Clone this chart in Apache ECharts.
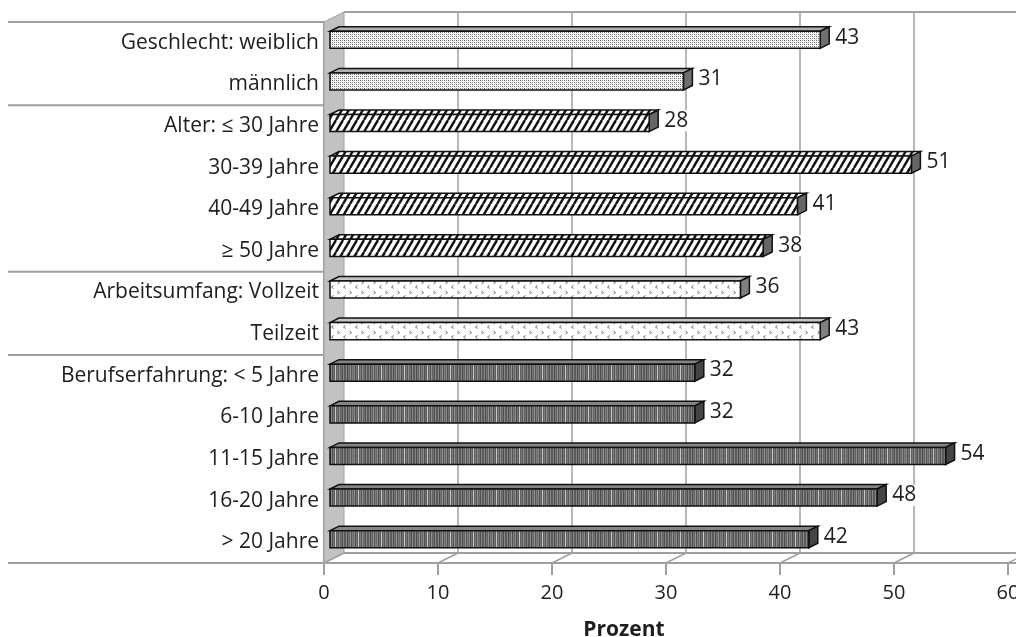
<!DOCTYPE html>
<html>
<head>
<meta charset="utf-8">
<script src="https://cdn.jsdelivr.net/npm/echarts@6/dist/echarts.min.js"></script>
<style>
  html, body { margin: 0; padding: 0; background: #ffffff; }
  #chart { width: 1016px; height: 637px; }
</style>
</head>
<body>
<div id="chart"></div>
<script>
// Anteile in Prozent nach Merkmalsgruppen
const categories = [
  'Geschlecht: weiblich', 'männlich',
  'Alter: ≤ 30 Jahre', '30-39 Jahre', '40-49 Jahre', '≥ 50 Jahre',
  'Arbeitsumfang: Vollzeit', 'Teilzeit',
  'Berufserfahrung: < 5 Jahre', '6-10 Jahre', '11-15 Jahre', '16-20 Jahre', '> 20 Jahre'
];
const values = [43, 31, 28, 51, 41, 38, 36, 43, 32, 32, 54, 48, 42];
// number of rows in each group: Geschlecht, Alter, Arbeitsumfang, Berufserfahrung
const groupSizes = [2, 4, 2, 5];
const xTicks = [0, 10, 20, 30, 40, 50, 60];
const axisTitle = 'Prozent';

// depth of the pseudo-3D box (pixels)
const DX = 20, DY = -10;
const FONT = '"Open Sans", "Noto Sans", sans-serif';
const GRID_COLOR = '#a0a0a0';
const TEXT_COLOR = '#1e1e1e';

// ---- fill patterns for the four groups ----
function makeCanvas(w, h, draw) {
  const c = document.createElement('canvas');
  c.width = w; c.height = h;
  const ctx = c.getContext('2d');
  draw(ctx, w, h);
  return c;
}
const dotTile = makeCanvas(4, 4, (ctx) => {
  ctx.fillStyle = '#ffffff'; ctx.fillRect(0, 0, 4, 4);
  ctx.fillStyle = '#5e5e5e'; ctx.fillRect(0, 0, 1, 1); ctx.fillRect(2, 2, 1, 1);
  ctx.fillStyle = '#9a9a9a'; ctx.fillRect(2, 0, 1, 1); ctx.fillRect(0, 2, 1, 1);
  ctx.fillStyle = '#dedede'; ctx.fillRect(1, 1, 1, 1); ctx.fillRect(3, 3, 1, 1);
});
const hatchTile = makeCanvas(7, 12, (ctx, w, h) => {
  ctx.fillStyle = '#ffffff'; ctx.fillRect(0, 0, w, h);
  ctx.strokeStyle = '#111111'; ctx.lineWidth = 2.4;
  for (const k of [-w, 0, w]) {
    ctx.beginPath(); ctx.moveTo(k, h); ctx.lineTo(k + w, 0); ctx.stroke();
  }
});
const chevronTile = makeCanvas(12, 10, (ctx) => {
  ctx.fillStyle = '#ffffff'; ctx.fillRect(0, 0, 12, 10);
  ctx.strokeStyle = '#6a6a6a'; ctx.lineWidth = 1;
  ctx.beginPath(); ctx.moveTo(1.5, 1); ctx.lineTo(3.5, 2.5); ctx.lineTo(1.5, 4); ctx.stroke();
  ctx.beginPath(); ctx.moveTo(9.5, 5.5); ctx.lineTo(7.5, 7); ctx.lineTo(9.5, 8.5); ctx.stroke();
});
const stripeCols = ['#5c5c5c', '#858585', '#4c4c4c', '#767676', '#626262', '#939393', '#545454',
  '#7e7e7e', '#686868', '#8a8a8a', '#505050', '#737373', '#5e5e5e', '#c8c8c8', '#606060',
  '#7b7b7b', '#575757', '#8e8e8e', '#666666', '#707070', '#4f4f4f', '#888888', '#5a5a5a'];
const stripeTile = makeCanvas(stripeCols.length, 2, (ctx) => {
  stripeCols.forEach((c, i) => { ctx.fillStyle = c; ctx.fillRect(i, 0, 1, 2); });
});

const groupStyles = [
  { front: dotTile, top: '#b0b0b0', side: '#6e6e6e' },
  { front: hatchTile, top: hatchTile, side: '#666666' },
  { front: chevronTile, top: '#c4c4c4', side: '#808080' },
  { front: stripeTile, top: '#858585', side: '#444444' }
];
const groupOf = [];
groupSizes.forEach((n, g) => { for (let k = 0; k < n; k++) groupOf.push(g); });
const fillOf = (f) => (typeof f === 'string' ? f : { image: f, repeat: 'repeat' });

// indices where a new group starts (plus the bottom edge)
const boundaries = [];
groupSizes.reduce((acc, n) => { boundaries.push(acc); return acc + n; }, 0);
boundaries.push(categories.length);

const chart = echarts.init(document.getElementById('chart'), null, { renderer: 'canvas' });

// back wall, floor and left wall of the box
function renderFrame(params, api) {
  const cs = params.coordSys;
  const gx = cs.x, gy = cs.y, gw = cs.width, gh = cs.height;
  const children = [];
  const line = (x1, y1, x2, y2, w) => ({
    type: 'line', shape: { x1, y1, x2, y2 },
    style: { stroke: GRID_COLOR, lineWidth: w || 1.5 }, silent: true
  });
  children.push({
    type: 'polygon',
    shape: { points: [[gx, gy], [gx + DX, gy + DY], [gx + DX, gy + gh + DY], [gx, gy + gh]] },
    style: { fill: '#c2c2c2', stroke: GRID_COLOR, lineWidth: 1 }, silent: true
  });
  children.push(line(gx + DX, gy + DY, gx + gw + DX + 10, gy + DY, 2));
  children.push(line(gx + DX, gy + gh + DY, gx + gw + DX + 10, gy + gh + DY, 2));
  children.push(line(gx + gw, gy + gh, gx + gw + DX + 10, gy + gh, 2));
  xTicks.forEach((t) => {
    const x = api.coord([t, 0])[0];
    if (t > xTicks[0]) children.push(line(x + DX, gy + DY, x + DX, gy + gh + DY, 1.5));
    children.push(line(x, gy + gh, x + DX, gy + gh + DY, 1.5));
  });
  return { type: 'group', children };
}

// group separator lines running left under the category labels
function renderSeparator(params, api) {
  const idx = api.value(0);
  const band = api.size([0, 1])[1];
  const y = api.coord([0, 0])[1] - band / 2 + idx * band;
  const x = params.coordSys.x;
  return {
    type: 'line', shape: { x1: 8, y1: y, x2: x, y2: y },
    style: { stroke: GRID_COLOR, lineWidth: 2 }, silent: true
  };
}

// one 3D bar: front face, top face, right end face and value label
function renderBar(params, api) {
  const v = api.value(0), c = api.value(1);
  const p0 = api.coord([0, c]);
  const p1 = api.coord([v, c]);
  const band = api.size([0, 1])[1];
  const h = band * 0.41;
  const ox = DX * 0.3, oy = DY * 0.3;
  const dx = DX * 0.45, dy = DY * 0.45;
  const x0 = p0[0] + ox, x1 = p1[0] + ox;
  const yc = p0[1] + oy, yt = yc - h / 2, yb = yc + h / 2;
  const st = groupStyles[groupOf[c]];
  const edge = { stroke: '#111111', lineWidth: 1.5 };
  return {
    type: 'group',
    children: [
      { type: 'polygon', shape: { points: [[x0, yt], [x0 + dx, yt + dy], [x1 + dx, yt + dy], [x1, yt]] },
        style: Object.assign({ fill: fillOf(st.top) }, edge) },
      { type: 'polygon', shape: { points: [[x1, yt], [x1 + dx, yt + dy], [x1 + dx, yb + dy], [x1, yb]] },
        style: Object.assign({ fill: fillOf(st.side) }, edge) },
      { type: 'rect', shape: { x: x0, y: yt, width: x1 - x0, height: h },
        style: Object.assign({ fill: fillOf(st.front) }, edge) },
      { type: 'text', x: x1 + dx + 3, y: yc + dy / 2,
        style: { text: String(v), fill: TEXT_COLOR, font: '21px ' + FONT,
          verticalAlign: 'middle', align: 'left', backgroundColor: '#ffffff', padding: [0, 3] } }
    ]
  };
}

chart.setOption({
  animation: false,
  backgroundColor: '#ffffff',
  grid: { left: 324, right: 8, top: 22, bottom: 74, containLabel: false, outerBoundsMode: 'none' },
  xAxis: {
    type: 'value', min: xTicks[0], max: xTicks[xTicks.length - 1], interval: 10,
    axisLine: { show: true, lineStyle: { color: GRID_COLOR, width: 2 } },
    axisTick: { show: true, length: 12, lineStyle: { color: GRID_COLOR, width: 2 } },
    axisLabel: { fontSize: 20, color: TEXT_COLOR, fontFamily: FONT, margin: 20 },
    splitLine: { show: false },
    name: axisTitle, nameLocation: 'middle', nameGap: 57,
    nameTextStyle: { fontSize: 21, fontWeight: 'bold', color: TEXT_COLOR, fontFamily: FONT,
      padding: [0, 84, 0, 0] }
  },
  yAxis: {
    type: 'category', data: categories, inverse: true,
    axisLine: { show: true, lineStyle: { color: GRID_COLOR, width: 2 } },
    axisTick: { show: false },
    axisLabel: { fontSize: 21, color: TEXT_COLOR, fontFamily: FONT, margin: 5 },
    splitLine: { show: false }
  },
  series: [
    { type: 'custom', name: 'frame', renderItem: renderFrame, data: [[0, 0]], z: 1, clip: false, silent: true },
    { type: 'custom', name: 'groups', renderItem: renderSeparator, data: boundaries.map((b) => [b]),
      encode: { y: 0 }, z: 2, clip: false, silent: true },
    { type: 'custom', name: 'Prozent', renderItem: renderBar,
      data: values.map((v, i) => [v, i]), encode: { x: 0, y: 1 }, z: 3, clip: false }
  ]
});
</script>
</body>
</html>
